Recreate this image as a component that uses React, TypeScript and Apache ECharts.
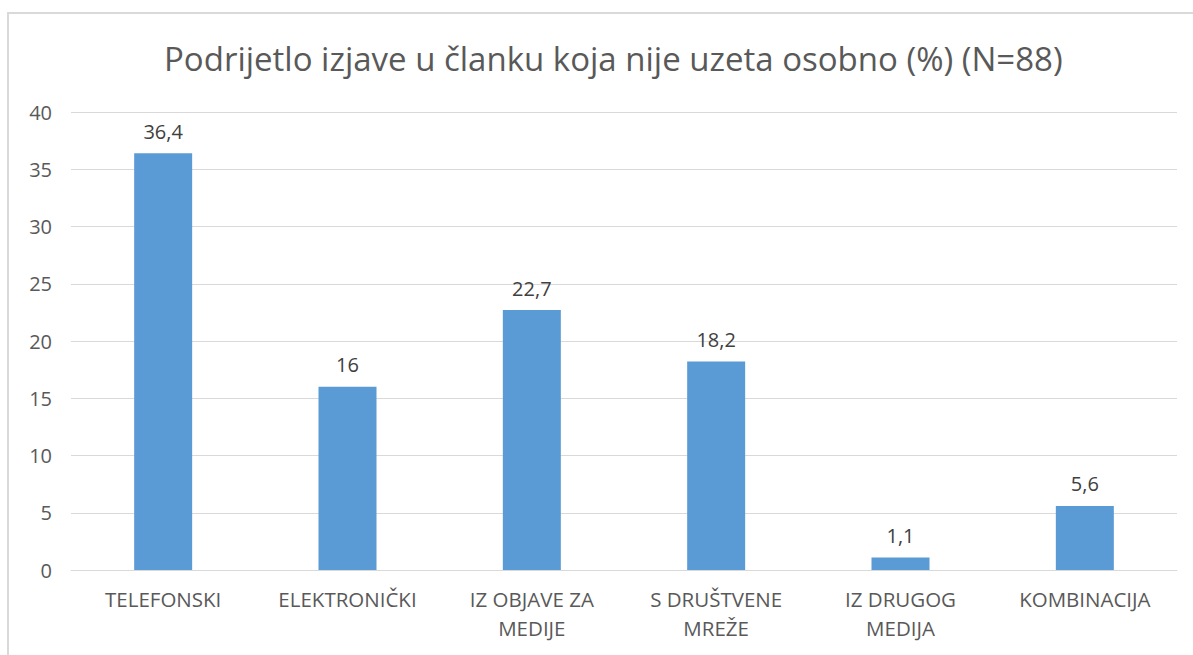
import React, { useEffect, useRef } from "react";
import * as echarts from "echarts";

const titleText = "Podrijetlo izjave u članku koja nije uzeta osobno (%) (N=88)";
const categories = [
  "TELEFONSKI",
  "ELEKTRONIČKI",
  "IZ OBJAVE ZA\nMEDIJE",
  "S DRUŠTVENE\nMREŽE",
  "IZ DRUGOG\nMEDIJA",
  "KOMBINACIJA",
];
const values = [36.4, 16, 22.7, 18.2, 1.1, 5.6];
const yMin = 0;
const yMax = 40;
const yStep = 5;

export default function App() {
  const ref = useRef<HTMLDivElement>(null);
  useEffect(() => {
    if (!ref.current) return;
    const chart = echarts.init(ref.current, undefined, { renderer: "svg" });
    const font = "'Open Sans', 'Noto Sans', sans-serif";
    chart.setOption({
      animation: false,
      backgroundColor: "#ffffff",
      textStyle: { fontFamily: font },
      title: {
        text: titleText,
        left: 159,
        top: 37,
        textStyle: { fontFamily: font, fontSize: 33, fontWeight: "normal", color: "#595959" },
      },
      graphic: [
        {
          type: "rect",
          shape: { x: 8, y: 13, width: 1400, height: 900 },
          style: { fill: "none", stroke: "#d9d9d9", lineWidth: 2 },
          silent: true,
        },
      ],
      grid: { left: 71, right: 16, top: 112, bottom: 85 },
      xAxis: {
        type: "category",
        data: categories,
        axisLine: { show: true, lineStyle: { color: "#d9d9d9", width: 1 } },
        axisTick: { show: false },
        axisLabel: {
          interval: 0,
          color: "#595959",
          fontFamily: font,
          fontSize: 20.5,
          lineHeight: 29,
          margin: 14,
        },
      },
      yAxis: {
        type: "value",
        min: yMin,
        max: yMax,
        interval: yStep,
        axisLine: { show: false },
        axisTick: { show: false },
        splitLine: { lineStyle: { color: "#d9d9d9", width: 1 } },
        axisLabel: { color: "#595959", fontFamily: font, fontSize: 20, margin: 19 },
      },
      series: [
        {
          type: "bar",
          data: values,
          barWidth: 58,
          itemStyle: { color: "#5b9bd5" },
          label: {
            show: true,
            position: "top",
            distance: 12,
            color: "#404040",
            fontFamily: font,
            fontSize: 20,
            formatter: (p: any) => String(p.value).replace(".", ","),
          },
        },
      ],
    });
    return () => chart.dispose();
  }, []);
  return (
    <div
      ref={ref}
      style={{ position: "fixed", left: 0, top: 0, width: 1193, height: 655 }}
    />
  );
}
